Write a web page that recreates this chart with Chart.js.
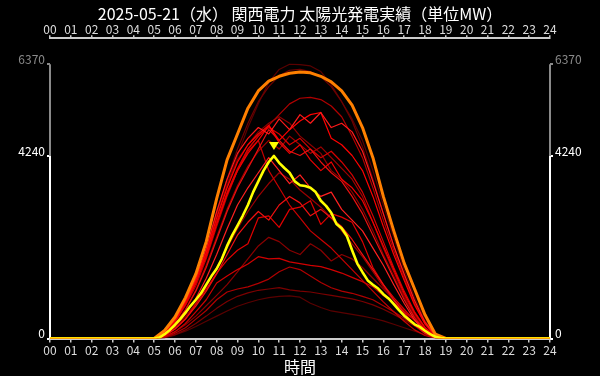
<!DOCTYPE html>
<html>
<head>
<meta charset="utf-8">
<script src="https://cdn.jsdelivr.net/npm/chart.js@4"></script>
<style>
html, body { margin: 0; padding: 0; background: #000; }
</style>
</head>
<body>
<canvas id="chart" width="600" height="376"></canvas>
<script>
const chartTitle = '2025-05-21（水） 関西電力 太陽光発電実績（単位MW）';
const hourTicks = ['00','01','02','03','04','05','06','07','08','09','10','11','12',
  '13','14','15','16','17','18','19','20','21','22','23','24'];

// 過去の日 : 30分毎 (0時, 5時〜19時, 24時)
const hours = [0, 5, 5.5, 6, 6.5, 7, 7.5, 8, 8.5, 9, 9.5, 10, 10.5, 11, 11.5, 12,
  12.5, 13, 13.5, 14, 14.5, 15, 15.5, 16, 16.5, 17, 17.5, 18, 18.5, 19, 24];

const peakDay = [0,0,190,500,950,1500,2250,3250,4150,4750,5350,5750,5980,6090,6160,6190,6170,6090,5960,5750,5420,4900,4200,3300,2500,1750,1150,550,100,0,0];

const day01 = [0,0,160,440,880,1400,2100,2950,3700,4300,4650,4900,4750,5100,4850,5200,5000,5250,4900,5000,4800,4350,3650,2900,2150,1500,880,380,70,0,0];
const day02 = [0,0,150,420,850,1350,2000,2800,3500,4100,4500,4750,4950,4600,4850,5050,5200,5250,4650,4500,4250,3900,3300,2600,1950,1350,780,340,60,0,0];
const day03 = [0,0,90,280,560,930,1400,1950,2550,3100,3500,3850,4200,3900,3600,3800,3500,3300,3400,3000,2750,2500,2100,1700,1250,820,430,160,25,0,0];
const day04 = [0,0,100,320,660,1100,1650,2300,2950,3500,3950,4400,4850,4600,4350,4250,4400,4100,3850,3650,3300,2900,2400,1900,1400,900,480,190,30,0,0];
const day05 = [0,0,130,390,790,1280,1900,2650,3350,3900,4300,4600,4950,4550,4300,4500,4150,3900,4100,3700,3500,3200,2700,2150,1600,1050,600,250,40,0,0];
const day06 = [0,0,70,220,450,750,1100,1500,1950,2400,2700,2950,2750,3100,3300,3150,2850,3000,2800,2600,2300,1950,1600,1250,900,600,320,120,20,0,0];
const day07 = [0,0,60,220,450,800,1150,1520,1820,2050,2200,2800,2850,2580,3000,3050,3200,2650,2900,2820,2700,2250,1650,1250,950,680,420,200,50,0,0];
const day08 = [0,0,140,400,800,1300,1950,2700,3400,3950,4400,4700,4900,4750,4500,4650,4400,4200,4350,4100,3800,3400,2850,2250,1650,1100,620,260,40,0,0];
const day09 = [0,0,40,160,350,620,900,1290,1450,1600,1730,1900,1850,1860,1780,1740,1700,1670,1600,1520,1420,1320,1200,1000,820,620,430,230,70,0,0];
const day10 = [0,0,140,410,820,1320,1950,2700,3350,3900,4350,4600,3900,3500,3100,2800,2500,2300,2100,1850,1600,1350,1100,850,620,400,200,70,10,0,0];
const day11 = [0,0,120,380,760,1220,1850,2600,3300,3900,4400,4700,4950,5200,5450,5580,5600,5550,5400,5150,4700,4200,3500,2750,2050,1400,820,380,70,0,0];
const day12 = [0,0,110,330,680,1120,1700,2350,3000,3550,4000,4350,4600,4400,4700,4500,4300,4450,4200,3950,3700,3300,2700,2100,1550,1000,560,230,40,0,0];
const day13 = [0,0,30,120,250,450,650,900,1080,1150,1200,1280,1380,1550,1660,1600,1450,1300,1180,1100,1050,980,900,760,620,470,310,160,50,0,0];
const day14 = [0,0,80,250,500,820,1200,1650,2100,2550,2950,3300,3600,3850,3700,3450,3250,3050,2800,2500,2200,1900,1550,1200,880,570,300,110,20,0,0];
const day15 = [0,0,150,430,860,1380,2050,2850,3550,4150,4500,4800,5000,5150,5000,4700,4500,4300,3900,3700,3400,3000,2500,1950,1450,950,520,200,30,0,0];
const day16 = [0,0,40,150,320,520,760,1000,1250,1550,1850,2150,2350,2250,2050,1950,2200,2050,1800,1950,1850,1650,1400,1150,900,650,420,220,60,0,0];
const day17 = [0,0,20,90,200,350,520,700,860,980,1060,1120,1150,1180,1130,1100,1080,1040,1000,960,920,860,780,680,560,430,290,150,40,0,0];
const day18 = [0,0,140,420,850,1380,2050,2900,3700,4400,5000,5500,5850,6100,6230,6250,6200,6080,5850,5500,5050,4450,3700,2900,2150,1450,820,330,60,0,0];
const day19 = [0,0,20,80,170,280,400,520,640,750,830,900,950,980,990,960,820,720,640,600,560,520,470,410,330,250,170,90,25,0,0];
const day20 = [0,0,120,380,780,1300,1950,2800,3600,4250,4900,5450,5950,6250,6370,6360,6330,6200,5900,5500,5100,4600,3900,3100,2350,1600,950,420,80,0,0];

// 当日 : 15分毎
const todayHours = [0, 5, 5.25, 5.5, 5.75, 6, 6.25, 6.5, 6.75, 7, 7.25, 7.5, 7.75, 8, 8.25, 8.5, 8.75, 9,
  9.25, 9.5, 9.75, 10, 10.25, 10.5, 10.75, 11, 11.25, 11.5, 11.75, 12, 12.25, 12.5, 12.75, 13,
  13.25, 13.5, 13.75, 14, 14.25, 14.5, 14.75, 15, 15.25, 15.5, 15.75, 16, 16.25, 16.5, 16.75, 17,
  17.25, 17.5, 17.75, 18, 18.25, 18.5, 18.75, 19, 24];
const today = [0,0,20,100,200,320,450,600,760,900,1050,1250,1450,1620,1850,2150,2400,2620,
  2850,3100,3400,3650,3900,4100,4240,4080,3960,3850,3650,3560,3540,3500,3400,3200,
  3080,2920,2660,2560,2380,2050,1740,1540,1350,1250,1160,1030,930,800,660,530,
  430,330,270,180,100,40,10,0,0];

const past = [day01, day02, day03, day04, day05, day06, day07, day08, day09, day10,
  day11, day12, day13, day14, day15, day16, day17, day18, day19, day20];
const pastColors = ['#ff1a1a','#ff0000','#ff2020','#e81010','#f00000','#f01010','#e00000','#d40000','#d00000','#c80000',
  '#b00000','#a00000','#b00000','#9a0000','#8c0000','#8a0000','#7a0000','#6e0000','#5a0000','#5a0000'];

const todayMax = Math.max(...today);
const recordMax = Math.max(...peakDay, ...past.flat());
const yTicks = [0, todayMax, recordMax];
const font = "'Noto Sans CJK JP', 'Noto Sans', sans-serif";

function pts(xs, ys) { return xs.map((h, i) => ({x: h, y: ys[i]})); }

const datasets = [
  {label: '当日', data: pts(todayHours, today), borderColor: '#ffff00', borderWidth: 2.6},
  {label: '最大', data: pts(hours, peakDay), borderColor: '#ff8000', borderWidth: 3},
];
past.forEach((d, i) => datasets.push({label: 'd' + i, data: pts(hours, d), borderColor: pastColors[i], borderWidth: 1.2}));

const decor = {
  id: 'decor',
  beforeDatasetsDraw(chart) { // 縦軸の線 (最大まで灰色, 当日最大まで白)
    const {ctx, chartArea, scales: {y}} = chart;
    const top = y.getPixelForValue(recordMax), mid = y.getPixelForValue(todayMax), bot = y.getPixelForValue(0);
    ctx.save();
    ctx.lineWidth = 2;
    [chartArea.left, chartArea.right].forEach(x => {
      ctx.strokeStyle = '#8a8a8a';
      ctx.beginPath(); ctx.moveTo(x, top); ctx.lineTo(x, mid); ctx.stroke();
      ctx.strokeStyle = '#ffffff';
      ctx.beginPath(); ctx.moveTo(x, mid); ctx.lineTo(x, bot); ctx.stroke();
    });
    ctx.restore();
  },
  afterDatasetsDraw(chart) { // 当日ピークの▼
    const {ctx} = chart;
    const p = chart.getDatasetMeta(0).data[today.indexOf(todayMax)];
    ctx.save();
    ctx.fillStyle = '#ffff00';
    ctx.beginPath();
    ctx.moveTo(p.x - 5, p.y - 14);
    ctx.lineTo(p.x + 5, p.y - 14);
    ctx.lineTo(p.x, p.y - 6);
    ctx.closePath();
    ctx.fill();
    ctx.restore();
  }
};

function yAxis(pos) {
  return {
    type: 'linear', position: pos, min: 0, max: 6975,
    afterBuildTicks: s => { s.ticks = yTicks.map(v => ({value: v})); },
    afterFit: s => { s.width = 50; },
    border: {display: false},
    grid: {drawOnChartArea: false, tickLength: 3, lineWidth: 2,
      color: c => (c.tick && c.tick.value === recordMax) ? '#8a8a8a' : '#ffffff'},
    ticks: {autoSkip: false, padding: 2, labelOffset: -5, font: {family: font, size: 12},
      color: c => (c.tick && c.tick.value === recordMax) ? '#8a8a8a' : '#ffffff',
      callback: v => String(v)}
  };
}

function xAxis(pos, h) {
  return {
    type: 'linear', position: pos, min: 0, max: 24,
    afterFit: s => { s.height = h; },
    border: {color: '#cccccc', width: 2},
    grid: {drawOnChartArea: false, tickLength: pos === 'top' ? 3 : 4, lineWidth: 1.5, color: '#cccccc'},
    ticks: {stepSize: 1, autoSkip: false, maxRotation: 0, padding: pos === 'top' ? -1 : 1,
      color: '#dddddd', font: {family: font, size: 12}, callback: v => hourTicks[v]},
    title: {display: pos === 'bottom', text: '時間', color: '#ffffff', padding: 0,
      font: {family: font, size: 16, lineHeight: 1.1}}
  };
}

new Chart(document.getElementById('chart'), {
  type: 'line',
  data: {datasets},
  options: {
    responsive: false,
    animation: false,
    devicePixelRatio: 1,
    layout: {padding: 0},
    elements: {point: {radius: 0}, line: {tension: 0, borderJoinStyle: 'round'}},
    plugins: {
      legend: {display: false},
      tooltip: {enabled: false},
      title: {display: true, text: chartTitle, color: '#ffffff', padding: {top: 4, bottom: 0},
        font: {family: font, size: 16, weight: 'normal'}}
    },
    scales: {
      x: xAxis('bottom', 37.5),
      x2: xAxis('top', 15),
      y: yAxis('left'),
      y2: yAxis('right')
    }
  },
  plugins: [decor]
});
</script>
</body>
</html>
